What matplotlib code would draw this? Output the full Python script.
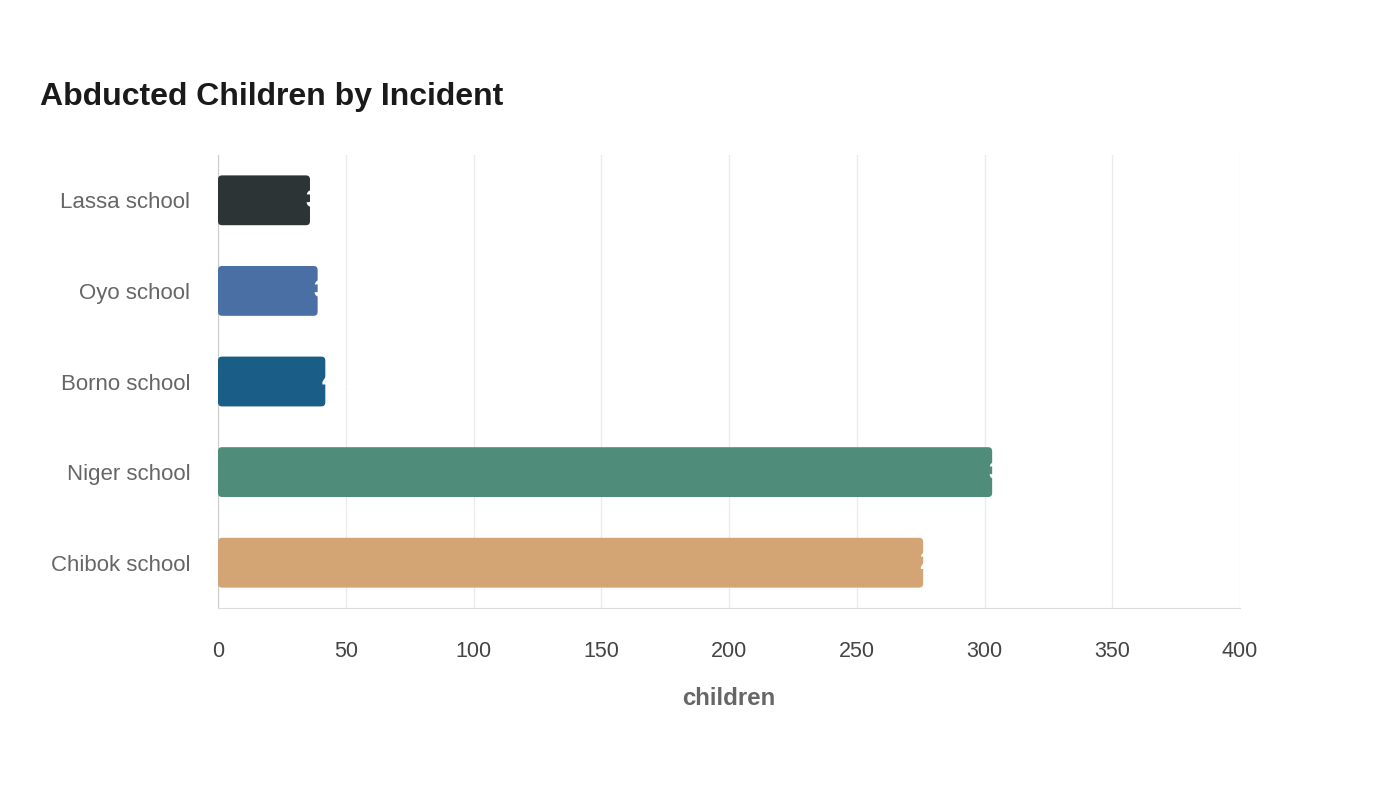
import matplotlib
matplotlib.use("Agg")
import matplotlib.pyplot as plt
from matplotlib.patches import FancyBboxPatch

plt.rcParams['font.family'] = ['Liberation Sans', 'DejaVu Sans']

incidents = ["Chibok school", "Niger school", "Borno school", "Oyo school", "Lassa school"]
children = [276, 303, 42, 39, 36]
colors = ["#d4a574", "#4f8c7a", "#1a5e88", "#4a6fa5", "#2d3436"]

fig = plt.figure(figsize=(14, 8), dpi=100)
ax = fig.add_axes([218/1400, 1-608/800, 1022/1400, 453/800])

bars = ax.barh(range(len(incidents)), children, height=0.55, color=colors)
ax.set_xlim(0, 400)
ax.set_ylim(-0.5, len(incidents)-0.5)

# swap plain bars for rounded ones
# aspect: data units per px on y vs x
px_x = 400/1022
px_y = len(incidents)/453
for b, c in zip(bars, colors):
    x, y = b.get_x(), b.get_y()
    w, h = b.get_width(), b.get_height()
    b.set_visible(False)
    p = FancyBboxPatch((x, y), w, h, boxstyle="round,pad=0,rounding_size=%f" % (4*px_x),
                       mutation_aspect=px_y/px_x, facecolor=c, edgecolor='none', zorder=3)
    ax.add_patch(p)

# value labels in white, mostly past the bar end (as in the reference)
for i, v in enumerate(children):
    ax.annotate(str(v), (v, i), xytext=(-3, 0), textcoords='offset points',
                ha='left', va='center', color='white', fontsize=17, fontweight='bold', zorder=4)

ax.set_yticks(range(len(incidents)))
ax.set_yticklabels(incidents, fontsize=16, color='#666666')
ax.set_xticks(range(0, 401, 50))
ax.tick_params(axis='x', labelsize=15.5, colors='#444444', length=0, pad=24)
ax.tick_params(axis='y', length=0, pad=20)
for t in ax.get_xticklabels():
    t.set_color('#444444')

ax.grid(axis='x', color='#ebebeb', linewidth=1, zorder=0)
ax.set_axisbelow(True)
for s in ['top', 'right']:
    ax.spines[s].set_visible(False)
ax.spines['left'].set_color('#cccccc')
ax.spines['bottom'].set_color('#dddddd')

ax.set_xlabel("children", fontsize=17.3, fontweight='bold', color='#666666', labelpad=18)
fig.text(40/1400, 1-97/800, "Abducted Children by Incident", fontsize=23, fontweight='bold',
         color='#1a1a1a', va='center', ha='left')

fig.savefig("out.png", dpi=100, facecolor='white')
